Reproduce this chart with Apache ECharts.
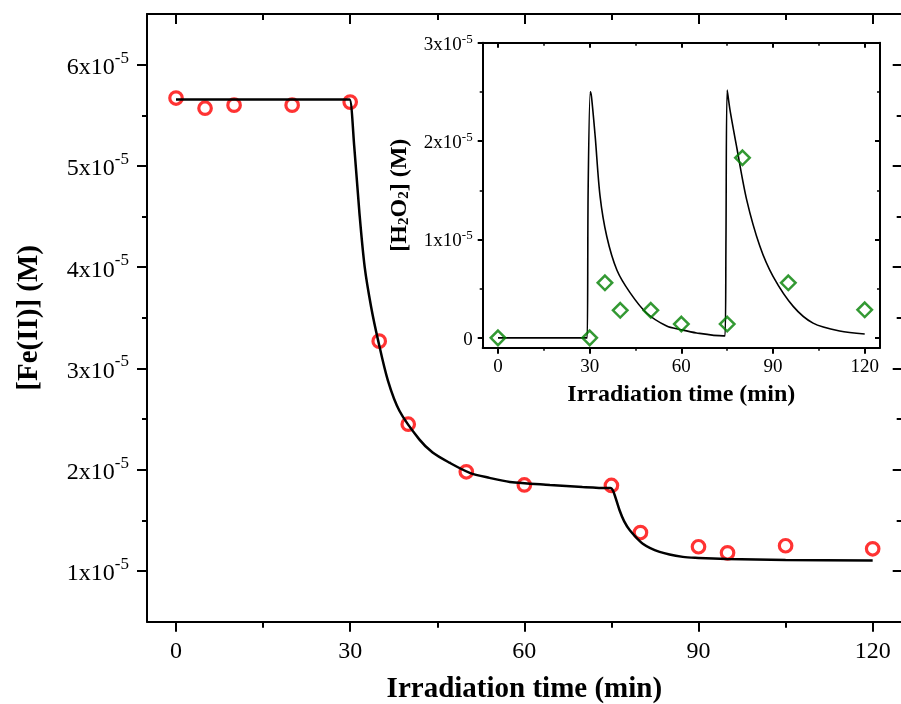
<!DOCTYPE html>
<html>
<head>
<meta charset="utf-8">
<script src="https://cdn.jsdelivr.net/npm/echarts@6/dist/echarts.min.js"></script>
<style>
  html, body { margin: 0; padding: 0; background: #fff; }
  #chart { width: 901px; height: 704px; }
</style>
</head>
<body>
<div id="chart"></div>
<script>
// Measured Fe(II) concentration (M) against irradiation time (min)
const feTime = [0, 5, 10, 20, 30, 35, 40, 50, 60, 75, 80, 90, 95, 105, 120];
const feConc = [5.67e-5, 5.57e-5, 5.60e-5, 5.60e-5, 5.63e-5, 3.27e-5, 2.45e-5, 1.98e-5,
                1.85e-5, 1.845e-5, 1.38e-5, 1.24e-5, 1.18e-5, 1.25e-5, 1.22e-5];

// Model curve for Fe(II)
const feModelTime = [0, 29.4, 29.9, 30.7, 31.6, 32.5, 33.6, 34.8, 36.5, 38.5, 41.9, 44.2, 47.1,
                     50.6, 54, 57.5, 64.4, 70, 74.4, 74.8, 75.3, 76.4, 77.2, 78.2, 80.4, 83.3,
                     87.3, 90, 94.8, 105, 120];
const feModelConc = [5.655e-5, 5.655e-5, 5.655e-5, 5.19e-5, 4.53e-5, 4.0e-5, 3.61e-5, 3.28e-5,
                     2.88e-5, 2.58e-5, 2.30e-5, 2.17e-5, 2.07e-5, 1.97e-5, 1.92e-5, 1.88e-5,
                     1.85e-5, 1.83e-5, 1.82e-5, 1.82e-5, 1.79e-5, 1.60e-5, 1.49e-5, 1.40e-5,
                     1.27e-5, 1.19e-5, 1.14e-5, 1.13e-5, 1.12e-5, 1.11e-5, 1.105e-5];

// Measured H2O2 concentration (M) for the inset
const h2o2Time = [0, 30, 35, 40, 50, 60, 75, 80, 95, 120];
const h2o2Conc = [0, 0, 0.56e-5, 0.28e-5, 0.28e-5, 0.14e-5, 0.14e-5, 1.83e-5, 0.56e-5, 0.285e-5];

// Model curve for H2O2
const h2o2ModelTime = [0, 28.8, 29.2, 29.5, 30.2, 30.6, 31.8, 33.4, 35.6, 38.9, 43.2, 48.7, 55.2,
                       59.6, 65, 73.7, 74.3, 74.6, 75.0, 75.9, 78.1, 81.4, 85.7, 90, 96.6,
                       103.1, 111.8, 120];
const h2o2ModelConc = [0, 0, 0, 1.5e-5, 2.50e-5, 2.45e-5, 2.05e-5, 1.44e-5, 1.03e-5, 0.69e-5,
                       0.46e-5, 0.25e-5, 0.12e-5, 0.085e-5, 0.05e-5, 0.02e-5, 0.02e-5,
                       1.0e-5, 2.52e-5, 2.32e-5, 1.94e-5, 1.40e-5, 0.93e-5, 0.625e-5,
                       0.32e-5, 0.15e-5, 0.07e-5, 0.04e-5];

// Tick positions
const timeTicks = [0, 30, 60, 90, 120];
const timeMinorTicks = [15, 45, 75, 105];
const feTicks = [1e-5, 2e-5, 3e-5, 4e-5, 5e-5, 6e-5];
const feMinorTicks = [1.5e-5, 2.5e-5, 3.5e-5, 4.5e-5, 5.5e-5];
const h2o2Ticks = [0, 1e-5, 2e-5, 3e-5];
const h2o2MinorTicks = [0.5e-5, 1.5e-5, 2.5e-5];

const FONT = "'Liberation Serif', 'Times New Roman', serif";
const zip = (xs, ys) => xs.map((x, i) => [x, ys[i]]);

// "n x 10^-5" tick labels
const sciLabel = v => {
  const n = Math.round(v * 1e5);
  return n === 0 ? '{b|0}' : '{b|' + n + 'x10}{s|-5}';
};

const mainRect = { left: 147, top: 14, width: 754.7, height: 607.7 };
const insetRect = { left: 482.7, top: 42.7, width: 397.3, height: 305 };

const grids = [mainRect, mainRect, insetRect, insetRect].map(r =>
  Object.assign({ outerBoundsMode: 'none', containLabel: false }, r));

const xAxes = [];
const yAxes = [];

function axis(o) {
  return Object.assign({
    type: 'value',
    min: o.min, max: o.max,
    gridIndex: o.grid,
    position: o.position,
    silent: true,
    splitLine: { show: false },
    minorTick: { show: false },
    axisLine: { show: !!o.line, onZero: false, lineStyle: { color: '#000', width: o.lw || 2 } },
    axisTick: { show: true, inside: !!o.inside, length: o.len, customValues: o.ticks,
                lineStyle: { color: '#000', width: o.tw || 2 } },
    axisLabel: o.label ? Object.assign({ show: true, customValues: o.ticks }, o.label) : { show: false }
  }, o.extra || {});
}

// ---- main plot: Fe(II) ----
const mainX = { min: -5, max: 125 };
const mainY = { min: 0.5e-5, max: 6.5e-5 };

xAxes.push(axis(Object.assign({ grid: 0, position: 'bottom', line: true, len: 10, ticks: timeTicks,
  label: { margin: 18, color: '#000', fontFamily: FONT, fontSize: 24 },
  extra: {
    name: 'Irradiation time (min)', nameLocation: 'middle', nameGap: 53, nameMoveOverlap: false,
    nameTextStyle: { color: '#000', fontFamily: FONT, fontWeight: 'bold', fontSize: 29 }
  } }, mainX)));
xAxes.push(axis(Object.assign({ grid: 0, position: 'top', line: true, inside: true, len: 10, ticks: timeTicks }, mainX)));
xAxes.push(axis(Object.assign({ grid: 1, position: 'bottom', len: 6, ticks: timeMinorTicks }, mainX)));
xAxes.push(axis(Object.assign({ grid: 1, position: 'top', inside: true, len: 6, ticks: timeMinorTicks }, mainX)));

yAxes.push(axis(Object.assign({ grid: 0, position: 'left', line: true, len: 10, ticks: feTicks,
  label: {
    margin: 18, formatter: sciLabel, padding: [6, 0, 0, 0],
    rich: {
      b: { color: '#000', fontFamily: FONT, fontSize: 24, lineHeight: 36 },
      s: { color: '#000', fontFamily: FONT, fontSize: 17, lineHeight: 17, verticalAlign: 'top' }
    }
  },
  extra: {
    name: '[Fe(II)] (M)', nameLocation: 'middle', nameRotate: 90, nameGap: 103, nameMoveOverlap: false,
    nameTextStyle: { color: '#000', fontFamily: FONT, fontWeight: 'bold', fontSize: 29 }
  } }, mainY)));
// right edge sits just past the canvas, only its inward ticks show
yAxes.push(axis(Object.assign({ grid: 0, position: 'right', line: false, inside: true, len: 9, ticks: feTicks }, mainY)));
yAxes.push(axis(Object.assign({ grid: 1, position: 'left', len: 5, ticks: feMinorTicks }, mainY)));
yAxes.push(axis(Object.assign({ grid: 1, position: 'right', inside: true, len: 5, ticks: feMinorTicks }, mainY)));

// ---- inset: H2O2 ----
const insX = { min: -5, max: 125 };
const insY = { min: -0.1e-5, max: 3e-5 };
const insXIndex = xAxes.length;
const insYIndex = yAxes.length;

xAxes.push(axis(Object.assign({ grid: 2, position: 'bottom', line: true, len: 6, ticks: timeTicks,
  label: { margin: 10, color: '#000', fontFamily: FONT, fontSize: 19 },
  extra: {
    name: 'Irradiation time (min)', nameLocation: 'middle', nameGap: 35, nameMoveOverlap: false,
    nameTextStyle: { color: '#000', fontFamily: FONT, fontWeight: 'bold', fontSize: 24 }
  } }, insX)));
xAxes.push(axis(Object.assign({ grid: 2, position: 'top', line: true, inside: true, len: 5, ticks: timeTicks }, insX)));
xAxes.push(axis(Object.assign({ grid: 3, position: 'bottom', len: 3, ticks: timeMinorTicks, tw: 1.5 }, insX)));
xAxes.push(axis(Object.assign({ grid: 3, position: 'top', inside: true, len: 3, ticks: timeMinorTicks, tw: 1.5 }, insX)));

yAxes.push(axis(Object.assign({ grid: 2, position: 'left', line: true, len: 5, ticks: h2o2Ticks,
  label: {
    margin: 10, formatter: sciLabel, padding: [4, 0, 0, 0],
    rich: {
      b: { color: '#000', fontFamily: FONT, fontSize: 19, lineHeight: 24 },
      s: { color: '#000', fontFamily: FONT, fontSize: 13, lineHeight: 13, verticalAlign: 'top' }
    }
  },
  extra: {
    name: '{t|[H}{u|2}{t|O}{u|2}{t|] (M)}', nameLocation: 'middle', nameRotate: 90, nameGap: 71,
    nameMoveOverlap: false,
    nameTextStyle: {
      rich: {
        t: { color: '#000', fontFamily: FONT, fontWeight: 'bold', fontSize: 24, lineHeight: 24 },
        u: { color: '#000', fontFamily: FONT, fontWeight: 'bold', fontSize: 15, lineHeight: 8, verticalAlign: 'bottom' }
      }
    }
  } }, insY)));
yAxes.push(axis(Object.assign({ grid: 2, position: 'right', line: true, inside: true, len: 5, ticks: h2o2Ticks }, insY)));
yAxes.push(axis(Object.assign({ grid: 3, position: 'left', len: 3, ticks: h2o2MinorTicks, tw: 1.5 }, insY)));
yAxes.push(axis(Object.assign({ grid: 3, position: 'right', inside: true, len: 3, ticks: h2o2MinorTicks, tw: 1.5 }, insY)));

const chart = echarts.init(document.getElementById('chart'), null, { renderer: 'canvas' });
chart.setOption({
  animation: false,
  backgroundColor: '#fff',
  grid: grids,
  xAxis: xAxes,
  yAxis: yAxes,
  series: [
    {
      type: 'line', xAxisIndex: 0, yAxisIndex: 0,
      data: zip(feModelTime, feModelConc),
      showSymbol: false, silent: true, z: 3,
      smooth: 0.3,
      lineStyle: { color: '#000', width: 2.5 }
    },
    {
      type: 'scatter', xAxisIndex: 0, yAxisIndex: 0,
      data: zip(feTime, feConc),
      symbol: 'circle', symbolSize: 12.5, z: 2,
      itemStyle: { color: 'transparent', borderColor: '#ff0000', borderWidth: 3.2 }
    },
    {
      type: 'line', xAxisIndex: insXIndex, yAxisIndex: insYIndex,
      data: zip(h2o2ModelTime, h2o2ModelConc),
      showSymbol: false, silent: true, z: 3,
      smooth: 0.3,
      lineStyle: { color: '#000', width: 1.6 }
    },
    {
      type: 'scatter', xAxisIndex: insXIndex, yAxisIndex: insYIndex,
      data: zip(h2o2Time, h2o2Conc),
      symbol: 'diamond', symbolSize: 14.5, z: 4,
      itemStyle: { color: 'transparent', borderColor: '#008000', borderWidth: 2.5 }
    }
  ]
});
</script>
</body>
</html>
